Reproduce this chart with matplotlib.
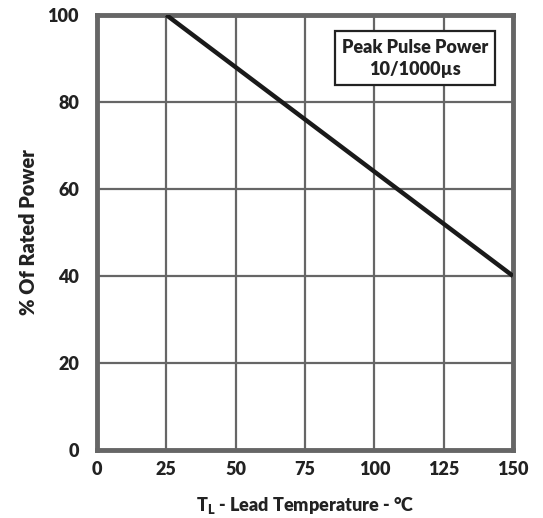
import matplotlib
matplotlib.use("Agg")
import matplotlib.pyplot as plt

temps = [25, 150]
power = [100, 40]
xticks = [0, 25, 50, 75, 100, 125, 150]
yticks = [0, 20, 40, 60, 80, 100]

plt.rcParams['font.family'] = ['Lato', 'DejaVu Sans']
FS = 13
FW = 'heavy'
fig = plt.figure(figsize=(5.43, 5.18), dpi=100)
ax = fig.add_axes([97/543, 1-450/518, (513-97)/543, (450-15)/518])
ax.plot(temps, power, color='#1a1a1a', lw=3.2, solid_capstyle='butt', zorder=3)
ax.set_xlim(0, 150)
ax.set_ylim(0, 100)
ax.set_xticks(xticks)
ax.set_yticks(yticks)
ax.set_xticklabels([str(t) for t in xticks], fontsize=FS, fontweight=FW, color='#222222')
ax.set_yticklabels([str(t) for t in yticks], fontsize=FS, fontweight=FW, color='#222222')
ax.tick_params(length=0, pad=8)
ax.tick_params(axis='y', pad=13)
ax.grid(True, color='#666666', lw=1.6)
for s in ax.spines.values():
    s.set_color('#666666')
    s.set_linewidth(3.5)
ax.set_xlabel(r'T$_\mathregular{L}$ - Lead Temperature - °C', fontsize=FS, fontweight=FW, color='#222222', labelpad=12)
ax.set_ylabel('% Of Rated Power', fontsize=14.3, fontweight=FW, color='#222222', labelpad=7)
ax.text(114.7, 90.1, 'Peak Pulse Power\n10/1000µs', ha='center', va='center', fontsize=FS,
        fontweight=FW, color='#222222', linespacing=1.35,
        bbox=dict(boxstyle='square,pad=0.4', fc='white', ec='#222222', lw=1.6), zorder=4)
fig.savefig('out.png', dpi=100)
